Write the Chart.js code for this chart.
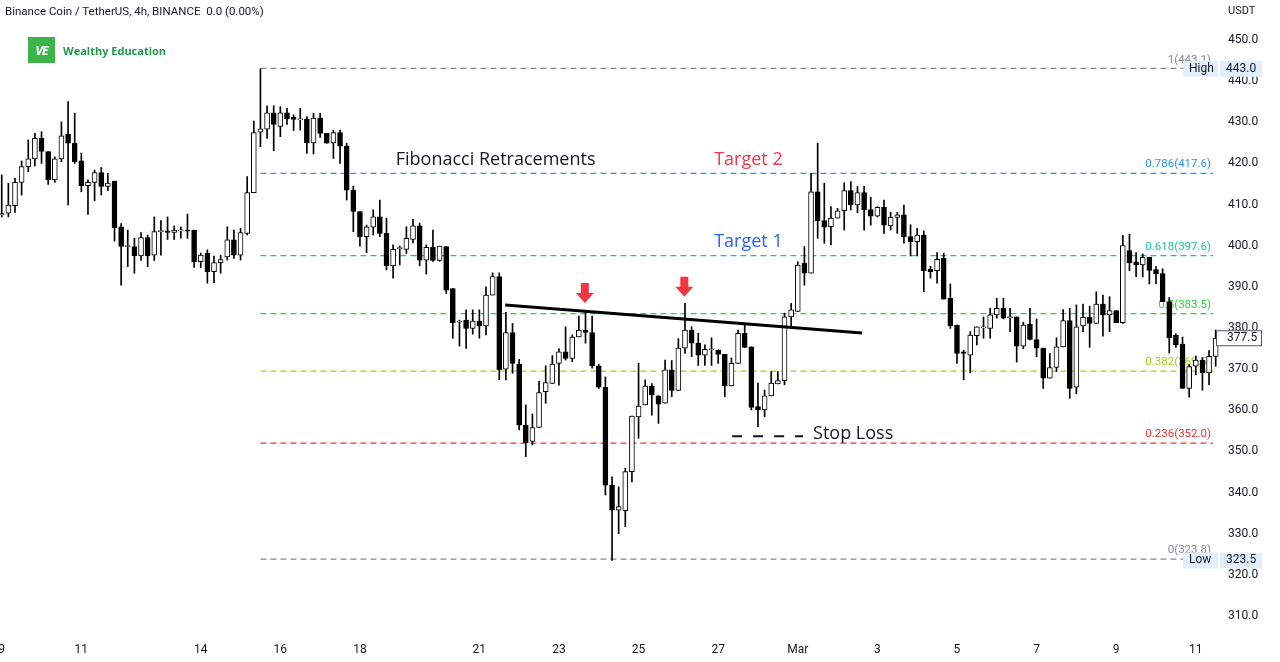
<!DOCTYPE html>
<html>
<head>
<meta charset="UTF-8">
<title>Binance Coin / TetherUS 4h</title>
<script src="https://cdn.jsdelivr.net/npm/chart.js@4.4.1/dist/chart.umd.min.js"></script>
<style>
    html, body { margin: 0; padding: 0; background: #ffffff; }
    #wrap { position: relative; width: 1280px; height: 662px; overflow: hidden; }
    #hdr { position: absolute; left: 5px; top: 4px; font: 11.5px Roboto, sans-serif; color: #131722; white-space: pre; }
    #logo { position: absolute; left: 28px; top: 37px; height: 26px; display: flex; align-items: center; }
    #logo .mark { width: 27px; height: 26px; background: #3bb54a; color: #fff; font: italic bold 13px "Open Sans", sans-serif;
        display: flex; align-items: center; justify-content: center; letter-spacing: -1px; }
    #logo .name { margin-left: 8px; font: bold 11px "Open Sans", sans-serif; color: #229a50; }
    #usdt { position: absolute; left: 1228px; top: 4px; font: 11px Roboto, sans-serif; color: #131722; }
</style>
</head>
<body>
<div id="wrap">
    <canvas id="chart"></canvas>
    <div id="hdr">Binance Coin / TetherUS, 4h, BINANCE  0.0 (0.00%)</div>
    <div id="logo"><span class="mark">VE</span><span class="name">Wealthy Education</span></div>
    <div id="usdt">USDT</div>
</div>

<script>
    // 4h candles (one row = 10 candles)
    const opens = [
        407.5, 407.9, 409.7, 415.4, 419.2, 421.1, 426.1, 422.9, 416.0, 421.1,
        427.1, 424.9, 420.6, 414.6, 415.4, 417.8, 414.4, 415.7, 404.6, 399.8,
        399.8, 397.5, 402.0, 397.7, 403.4, 403.6, 403.2, 403.6, 403.8, 403.8,
        396.1, 398.2, 393.7, 395.9, 397.3, 401.4, 397.7, 403.0, 412.9, 427.6,
        428.3, 432.3, 429.0, 432.3, 431.2, 430.6, 430.7, 425.0, 431.0, 427.3,
        425.0, 427.5, 424.2, 413.5, 408.3, 402.2, 404.5, 407.0, 403.0, 395.1,
        399.3, 399.1, 401.5, 404.8, 396.5, 399.6, 396.4, 399.8, 389.6, 381.4,
        381.9, 379.9, 381.7, 380.5, 388.0, 392.5, 370.0, 378.9, 371.2, 356.4,
        352.4, 355.8, 364.5, 366.5, 371.4, 374.2, 372.6, 377.8, 379.5, 378.9,
        370.8, 365.6, 341.8, 335.7, 335.6, 345.1, 358.4, 361.3, 365.9, 363.5,
        361.7, 369.8, 364.8, 375.1, 379.5, 376.3, 373.4, 374.7, 374.6, 373.6,
        365.9, 371.4, 378.7, 375.4, 360.9, 360.1, 363.5, 366.4, 367.2, 382.7,
        384.0, 395.7, 393.3, 413.1, 406.1, 404.6, 406.7, 408.5, 413.4, 409.9,
        412.9, 408.8, 407.2, 409.3, 404.8, 406.9, 407.5, 402.2, 401.0, 402.6,
        394.3, 393.9, 396.9, 387.2, 380.7, 374.2, 373.4, 378.1, 380.0, 379.9,
        383.2, 384.8, 382.5, 382.7, 375.6, 380.9, 377.2, 375.1, 367.8, 370.4,
        375.4, 381.8, 365.6, 380.5, 382.6, 381.1, 385.8, 383.2, 384.2, 381.3,
        398.8, 396.1, 395.3, 397.2, 394.2, 393.2, 386.4, 378.2, 376.1, 365.3,
        370.7, 372.2, 369.1, 373.1
    ];
    const highs = [
        417.2, 415.2, 416.4, 420.6, 425.7, 427.3, 427.7, 422.9, 421.6, 430.1,
        435.0, 432.2, 422.5, 416.0, 418.4, 419.0, 417.6, 415.7, 405.4, 403.8,
        401.8, 403.2, 402.6, 407.0, 406.1, 407.0, 404.8, 404.6, 407.7, 403.8,
        398.2, 399.0, 397.5, 397.7, 404.6, 403.8, 404.2, 416.8, 430.3, 443.0,
        434.0, 434.0, 433.8, 433.4, 431.8, 433.4, 431.4, 432.2, 432.2, 427.3,
        428.1, 428.1, 424.9, 414.5, 408.3, 405.0, 408.7, 411.1, 406.7, 400.2,
        399.9, 404.6, 406.4, 405.5, 400.2, 403.8, 399.9, 399.8, 389.6, 381.9,
        384.4, 384.4, 384.4, 390.0, 393.4, 393.4, 383.8, 381.1, 372.4, 361.3,
        359.1, 367.0, 370.8, 373.3, 375.0, 380.3, 378.3, 382.9, 384.0, 382.9,
        371.2, 368.1, 343.8, 341.4, 345.9, 358.6, 371.4, 367.4, 366.5, 363.5,
        372.2, 372.1, 377.4, 386.0, 380.3, 378.7, 375.9, 377.6, 374.6, 373.6,
        372.7, 379.5, 381.1, 375.4, 366.6, 364.9, 369.4, 369.4, 383.6, 386.0,
        396.1, 399.8, 417.6, 424.9, 415.2, 409.5, 409.1, 415.3, 415.6, 414.4,
        414.4, 411.8, 409.5, 411.1, 408.1, 408.1, 409.9, 405.1, 404.2, 403.6,
        395.0, 398.3, 398.2, 390.7, 380.7, 374.6, 379.1, 380.3, 382.7, 384.8,
        387.2, 387.2, 384.8, 382.7, 381.4, 384.8, 382.2, 375.1, 373.8, 377.6,
        384.5, 384.8, 385.6, 385.8, 385.3, 388.8, 388.0, 387.6, 384.2, 402.5,
        402.8, 398.3, 398.0, 397.2, 394.9, 394.4, 387.4, 378.6, 377.8, 371.1,
        373.2, 372.8, 374.5, 379.5
    ];
    const lows = [
        407.0, 407.0, 408.1, 412.3, 418.0, 419.4, 420.0, 414.9, 415.4, 420.4,
        409.9, 420.0, 413.1, 407.6, 410.9, 412.3, 413.4, 401.1, 390.4, 394.9,
        393.3, 396.4, 394.9, 396.4, 397.7, 401.5, 401.5, 401.8, 401.8, 394.7,
        394.7, 390.9, 391.0, 393.3, 396.5, 396.9, 396.5, 402.6, 412.9, 424.1,
        426.1, 423.1, 426.5, 429.5, 428.0, 428.1, 422.4, 422.3, 426.3, 424.9,
        421.2, 420.0, 411.1, 403.4, 399.9, 398.3, 402.6, 402.2, 394.1, 392.1,
        395.3, 398.1, 400.7, 395.1, 393.1, 396.2, 396.2, 388.4, 377.5, 375.6,
        375.0, 378.5, 377.5, 378.3, 388.0, 367.4, 367.4, 369.0, 355.2, 348.7,
        351.6, 355.8, 361.7, 366.5, 366.1, 372.2, 371.8, 377.8, 376.3, 370.2,
        365.3, 339.4, 323.5, 330.0, 331.7, 342.6, 353.2, 361.3, 358.8, 356.8,
        361.7, 363.3, 364.8, 373.8, 373.0, 370.9, 370.9, 370.9, 371.4, 363.3,
        365.9, 371.4, 375.3, 360.1, 356.0, 358.4, 363.5, 366.4, 366.2, 380.3,
        384.0, 390.4, 393.3, 401.8, 400.6, 400.2, 406.7, 403.8, 408.7, 408.0,
        403.8, 405.0, 407.0, 403.0, 403.8, 403.0, 400.6, 397.5, 397.5, 388.8,
        392.1, 390.9, 387.0, 379.9, 371.4, 367.4, 369.1, 375.9, 377.5, 377.5,
        382.4, 382.2, 379.1, 371.7, 375.0, 377.1, 373.0, 365.3, 367.8, 369.4,
        375.4, 362.9, 364.0, 379.1, 375.3, 381.1, 378.0, 379.1, 381.3, 381.1,
        393.9, 392.5, 392.4, 390.7, 390.7, 386.4, 373.9, 375.3, 365.3, 363.2,
        368.6, 364.9, 366.2, 370.7
    ];
    const closes = [
        407.8, 409.9, 415.4, 419.2, 421.1, 426.1, 422.9, 416.0, 421.1, 426.7,
        424.9, 420.4, 414.6, 415.4, 417.8, 414.4, 415.2, 404.4, 399.8, 399.9,
        397.5, 402.0, 397.5, 403.4, 403.5, 403.2, 403.8, 403.6, 403.5, 396.1,
        397.7, 393.7, 395.9, 396.6, 401.4, 397.7, 403.2, 412.9, 427.5, 428.4,
        432.3, 429.5, 432.3, 430.8, 430.7, 430.8, 425.0, 431.0, 427.3, 424.9,
        427.5, 424.2, 413.5, 408.3, 402.2, 404.6, 407.0, 403.0, 395.1, 399.1,
        399.5, 401.8, 404.8, 396.5, 399.6, 396.4, 399.9, 389.2, 381.3, 381.6,
        379.9, 381.7, 380.5, 388.0, 392.5, 369.8, 378.9, 371.4, 356.4, 352.1,
        355.8, 364.3, 366.7, 371.2, 374.2, 372.6, 377.8, 379.5, 378.9, 370.8,
        365.6, 341.8, 335.7, 336.6, 345.1, 358.6, 361.0, 365.9, 363.7, 361.5,
        369.8, 364.8, 375.1, 379.5, 376.3, 373.4, 374.8, 374.9, 373.6, 365.9,
        371.4, 378.7, 375.3, 360.7, 360.1, 363.5, 366.6, 367.2, 382.7, 384.4,
        395.3, 393.3, 413.1, 406.1, 404.5, 406.7, 408.5, 413.4, 409.9, 412.9,
        408.7, 407.2, 409.3, 405.0, 406.9, 407.5, 402.2, 401.0, 402.6, 393.9,
        393.7, 396.7, 387.0, 380.5, 373.8, 373.8, 378.3, 380.3, 380.3, 383.2,
        384.8, 382.4, 382.7, 375.6, 380.7, 377.2, 375.1, 367.8, 370.4, 375.4,
        381.8, 365.3, 380.3, 382.6, 381.1, 385.8, 383.2, 384.2, 381.3, 400.0,
        395.9, 395.3, 397.2, 394.0, 393.2, 386.4, 377.6, 375.9, 365.3, 370.6,
        372.2, 369.1, 373.1, 377.5
    ];

    // date ticks (candle index of each day's first bar) and their labels
    const dayTicks = [0, 12, 30, 42, 54, 72, 84, 96, 108, 120, 132, 144, 156, 168, 180];
    const dayLabels = ['9', '11', '14', '16', '18', '21', '23', '25', '27', 'Mar', '3', '5', '7', '9', '11'];
    const priceTicks = [310, 320, 330, 340, 350, 360, 370, 380, 390, 400, 410, 420, 430, 440, 450];

    // fibonacci retracement from the swing high (candle 39) to the low
    const fibLevels = ['1', '0.786', '0.618', '0.5', '0.382', '0.236', '0'];
    const fibPrices = [443.1, 417.6, 397.6, 383.5, 369.5, 352.0, 323.8];
    const fibColors = ['#858893', '#2f93ea', '#12c99a', '#2fd03a', '#9fd11a', '#f23030', '#858893'];
    const fibFrom = 39;
    const fibTo = 182.6;

    // drawn objects
    const necklineX = [75.9, 129.7];
    const necklineY = [385.6, 378.8];
    const stopX = [110.1, 120.8];
    const stopY = 353.7;
    const arrowX = [87.9, 102.9];
    const arrowY = [386.1, 387.6];
    const notes = ['Fibonacci Retracements', 'Target 2', 'Target 1', 'Stop Loss'];
    const noteX = [59.4, 107.4, 107.4, 122.3];
    const noteY = [420.8, 420.8, 400.9, 354.2];
    const noteColors = ['#131722', '#f23645', '#2962ff', '#131722'];
    const highPrice = 443.0;
    const lowPrice = 323.5;
    const lastPrice = 377.5;

    const idx = opens.map((_, i) => i);

    const datasets = [
        {
            type: 'bar',
            data: idx.map(i => ({x: i, y: [opens[i], closes[i]]})),
            backgroundColor: idx.map(i => closes[i] >= opens[i] ? '#ffffff' : '#000000'),
            borderColor: '#000000',
            borderWidth: 1,
            borderSkipped: false,
            barThickness: 5,
            minBarLength: 1,
            grouped: false,
            order: 1
        },
        {
            type: 'bar',
            data: idx.map(i => ({x: i, y: [lows[i], highs[i]]})),
            backgroundColor: '#000000',
            borderWidth: 0,
            barThickness: 1,
            grouped: false,
            order: 2
        },
        {
            type: 'line',
            data: [{x: necklineX[0], y: necklineY[0]}, {x: necklineX[1], y: necklineY[1]}],
            borderColor: '#000000',
            borderWidth: 3,
            pointRadius: 0,
            order: 0
        },
        {
            type: 'line',
            data: [{x: stopX[0], y: stopY}, {x: stopX[1], y: stopY}],
            borderColor: '#131722',
            borderWidth: 2,
            borderDash: [10, 11],
            pointRadius: 0,
            order: 0
        }
    ];

    fibPrices.forEach((p, k) => {
        datasets.push({
            type: 'line',
            data: [{x: fibFrom, y: p}, {x: fibTo, y: p}],
            borderColor: fibColors[k],
            borderWidth: 1.2,
            borderDash: [6, 4],
            pointRadius: 0,
            order: 3
        });
    });

    function priceBox(ctx, y, text, x0, w, bg, border) {
        ctx.fillStyle = bg;
        ctx.fillRect(x0, y - 8, w, 16);
        if (border) {
            ctx.strokeStyle = border;
            ctx.lineWidth = 1;
            ctx.strokeRect(x0 + 0.5, y - 8 + 0.5, w - 1, 15);
        }
        ctx.fillStyle = '#131722';
        ctx.fillText(text, x0 + (border ? 11 : 6), y);
    }

    const overlay = {
        id: 'overlay',
        beforeDatasetsDraw(chart) {
            const {ctx, scales: {x, y}} = chart;
            ctx.save();
            ctx.font = '11.5px Roboto, sans-serif';
            ctx.textAlign = 'right';
            ctx.textBaseline = 'bottom';
            fibPrices.forEach((p, k) => {
                ctx.fillStyle = fibColors[k];
                ctx.fillText(fibLevels[k] + '(' + p.toFixed(1) + ')', x.getPixelForValue(fibTo) - 2, y.getPixelForValue(p) - 3);
            });
            ctx.restore();
        },
        afterDatasetsDraw(chart) {
            const {ctx, scales: {x, y}} = chart;
            ctx.save();
            ctx.font = '18px "Open Sans", sans-serif';
            ctx.textAlign = 'left';
            ctx.textBaseline = 'middle';
            notes.forEach((t, k) => {
                ctx.fillStyle = noteColors[k];
                ctx.fillText(t, x.getPixelForValue(noteX[k]), y.getPixelForValue(noteY[k]));
            });
            ctx.fillStyle = '#f23645';
            arrowX.forEach((a, k) => {
                const px = x.getPixelForValue(a);
                const py = y.getPixelForValue(arrowY[k]);
                ctx.beginPath();
                ctx.moveTo(px - 4, py - 20);
                ctx.lineTo(px + 4, py - 20);
                ctx.lineTo(px + 4, py - 10);
                ctx.lineTo(px + 9, py - 10);
                ctx.lineTo(px, py);
                ctx.lineTo(px - 9, py - 10);
                ctx.lineTo(px - 4, py - 10);
                ctx.closePath();
                ctx.fill();
            });
            ctx.restore();
        },
        afterDraw(chart) {
            const {ctx, scales: {y}} = chart;
            const axisLeft = y.left;
            ctx.save();
            ctx.font = '12px Roboto, sans-serif';
            ctx.textBaseline = 'middle';
            ctx.textAlign = 'left';
            const hy = y.getPixelForValue(highPrice);
            const ly = y.getPixelForValue(lowPrice);
            priceBox(ctx, hy, 'High', axisLeft - 39, 35, '#e3eefc');
            priceBox(ctx, hy, highPrice.toFixed(1), axisLeft - 2, 42, '#e3eefc');
            priceBox(ctx, ly, 'Low', axisLeft - 39, 35, '#e3eefc');
            priceBox(ctx, ly, lowPrice.toFixed(1), axisLeft - 2, 42, '#e3eefc');
            priceBox(ctx, y.getPixelForValue(lastPrice), lastPrice.toFixed(1), axisLeft - 6, 46, '#ffffff', '#50535e');
            ctx.restore();
        }
    };

    new Chart(document.getElementById('chart'), {
        type: 'bar',
        data: {datasets},
        options: {
            responsive: true,
            maintainAspectRatio: false,
            animation: false,
            layout: {padding: 0},
            plugins: {legend: {display: false}, tooltip: {enabled: false}},
            scales: {
                x: {
                    type: 'linear',
                    offset: false,
                    min: -0.26,
                    max: 183.95,
                    grid: {display: false, drawTicks: false, offset: false},
                    border: {display: false},
                    afterBuildTicks: s => { s.ticks = dayTicks.map(v => ({value: v})); },
                    afterFit: s => { s.height = 30; s.paddingLeft = 0; s.paddingRight = 0; },
                    ticks: {
                        autoSkip: false,
                        maxRotation: 0,
                        padding: 11,
                        color: '#131722',
                        font: {family: 'Roboto', size: 12},
                        callback: v => dayLabels[dayTicks.indexOf(v)]
                    }
                },
                y: {
                    type: 'linear',
                    position: 'right',
                    min: 306.1,
                    max: 459.72,
                    grid: {display: false, drawTicks: false},
                    border: {display: false},
                    afterBuildTicks: s => { s.ticks = priceTicks.map(v => ({value: v})); },
                    afterFit: s => { s.width = 58; s.paddingTop = 0; s.paddingBottom = 0; },
                    ticks: {
                        padding: 6,
                        color: '#131722',
                        font: {family: 'Roboto', size: 12},
                        callback: v => v.toFixed(1)
                    }
                }
            }
        },
        plugins: [overlay]
    });
</script>
</body>
</html>
